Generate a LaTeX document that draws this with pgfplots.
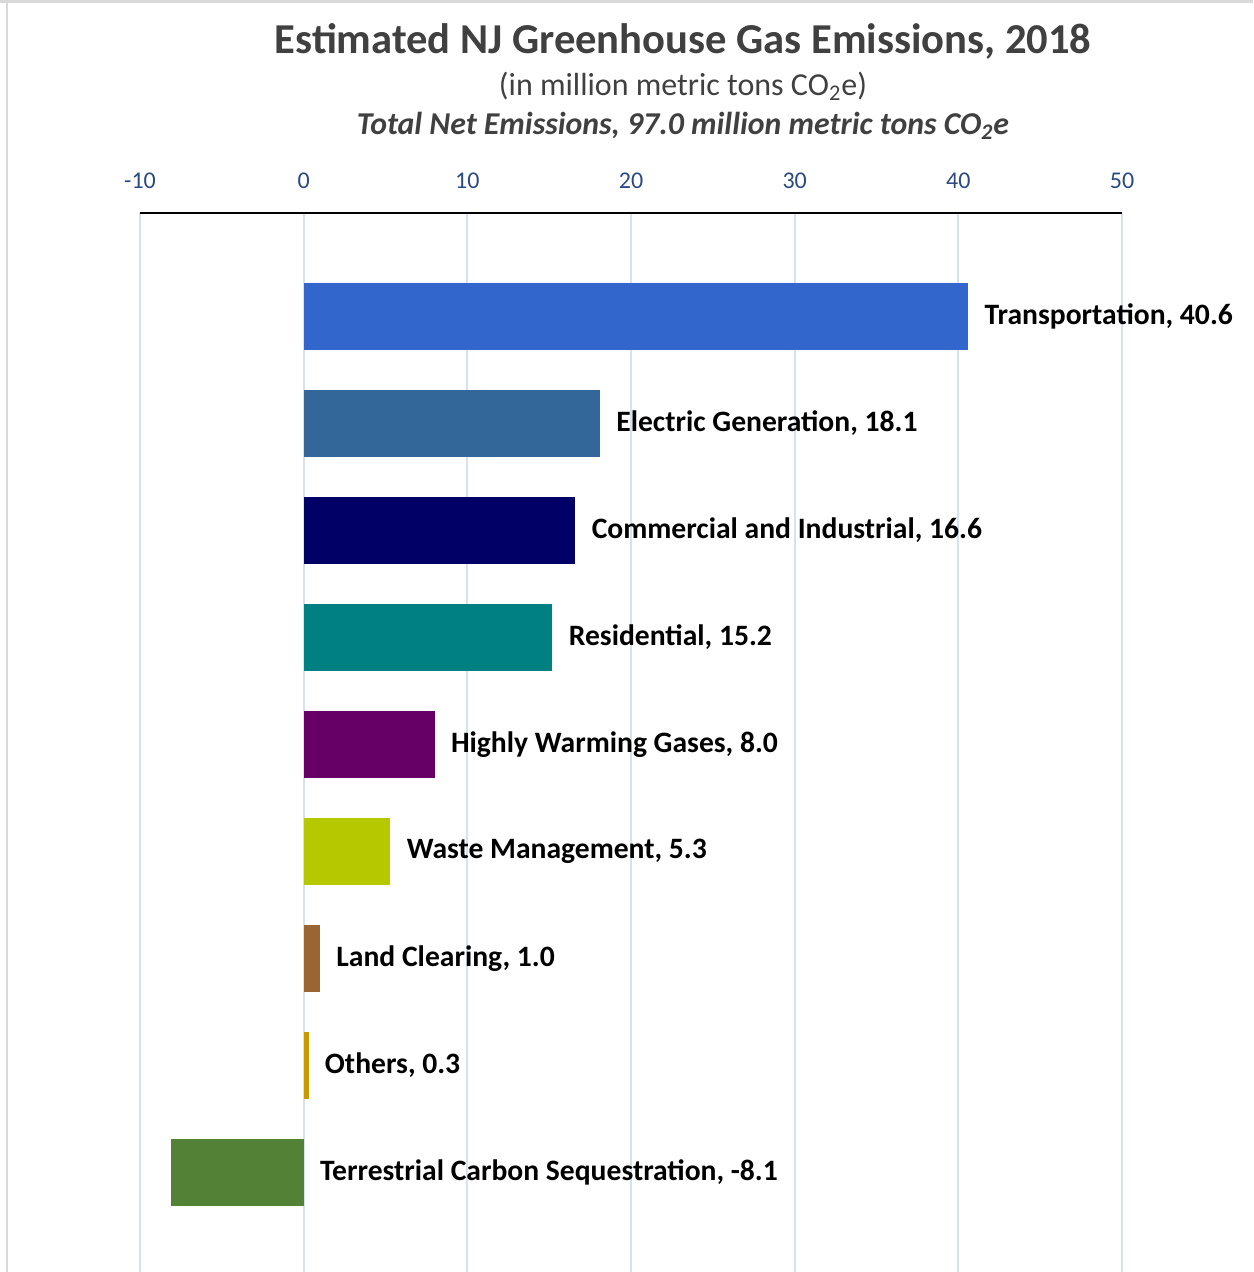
\documentclass[border=0pt]{standalone}
\usepackage{pgfplots}
\pgfplotsset{compat=1.18}
\usepackage{fontspec}
\setmainfont{Carlito}

\definecolor{transp}{HTML}{3366CC}
\definecolor{elec}{HTML}{336699}
\definecolor{comind}{HTML}{000066}
\definecolor{resid}{HTML}{008080}
\definecolor{hwg}{HTML}{660066}
\definecolor{waste}{HTML}{B5C800}
\definecolor{land}{HTML}{996633}
\definecolor{others}{HTML}{CC9900}
\definecolor{terr}{HTML}{538135}
\definecolor{gridc}{HTML}{D6E2F3}
\definecolor{tickc}{HTML}{2B4A82}
\definecolor{titlec}{HTML}{404040}
\definecolor{framec}{HTML}{D9D9D9}

\begin{document}
\begin{tikzpicture}
\useasboundingbox (0,0) rectangle (626.5pt,-636pt);
% chart frame
\draw[framec, line width=1.5pt] (0,-1pt) -- (626.5pt,-1pt);
\draw[framec, line width=1pt] (3.7pt,0) -- (3.7pt,-636pt);
% titles
\node[text=titlec, font=\bfseries\fontsize{21.3}{24}\selectfont] at (341.5pt,-20.5pt) {Estimated NJ Greenhouse Gas Emissions, 2018};
\node[text=titlec, font=\fontsize{16}{18}\selectfont] at (341.5pt,-43pt) {(in million metric tons CO\textsubscript{2}e)};
\node[text=titlec, font=\bfseries\itshape\fontsize{15.9}{18}\selectfont] at (341.5pt,-63pt) {Total Net Emissions, 97.0 million metric tons CO\textsubscript{2}e};
\begin{axis}[
  at={(70pt,-106.5pt)}, anchor=north west,
  scale only axis, width=491pt, height=529.5pt,
  xmin=-10, xmax=50, ymin=-0.935, ymax=8.967,
  axis x line=top, axis y line=none,
  x axis line style={-, black, line width=1pt},
  xtick={-10,0,10,20,30,40,50}, ytick=\empty,
  major tick length=0pt,
  xmajorgrids, grid style={gridc, line width=1pt},
  /pgf/number format/assume math mode=true,
  xticklabel style={text=tickc, font=\fontsize{12}{14}\selectfont, anchor=south, inner sep=0pt, yshift=12pt},
  clip=false,
  every axis plot/.append style={xbar, bar width=33.5pt, bar shift=0pt, draw=none},
]
\addplot[fill=transp] coordinates {(40.6,8)};
\addplot[fill=elec] coordinates {(18.1,7)};
\addplot[fill=comind] coordinates {(16.6,6)};
\addplot[fill=resid] coordinates {(15.2,5)};
\addplot[fill=hwg] coordinates {(8.0,4)};
\addplot[fill=waste] coordinates {(5.3,3)};
\addplot[fill=land] coordinates {(1.0,2)};
\addplot[fill=others] coordinates {(0.3,1)};
\addplot[fill=terr] coordinates {(-8.1,0)};
% data labels at the bar ends (at zero for the negative bar)
\addplot[xbar=0pt, draw=none, fill=none, mark=none, bar width=0pt,
  point meta=explicit symbolic, nodes near coords,
  every node near coord/.style={anchor=west, inner sep=0pt, xshift=8pt, text=black,
    font=\bfseries\fontsize{14.8}{17}\selectfont}]
  coordinates {
    (40.6,8) [{Transportation, 40.6}]
    (18.1,7) [{Electric Generation, 18.1}]
    (16.6,6) [{Commercial and Industrial, 16.6}]
    (15.2,5) [{Residential, 15.2}]
    (8.0,4) [{Highly Warming Gases, 8.0}]
    (5.3,3) [{Waste Management, 5.3}]
    (1.0,2) [{Land Clearing, 1.0}]
    (0.3,1) [{Others, 0.3}]
    (0,0) [{Terrestrial Carbon Sequestration, -8.1}]
  };
\end{axis}
\end{tikzpicture}
\end{document}
